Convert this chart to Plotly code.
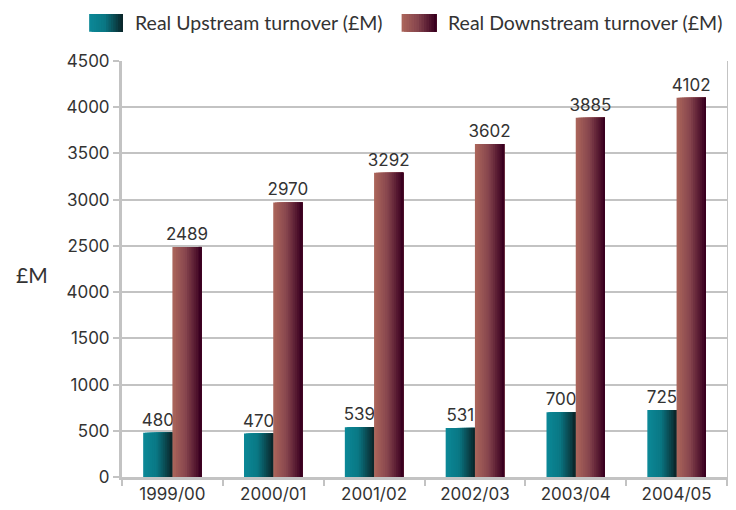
import plotly.graph_objects as go

years = ["1999/00", "2000/01", "2001/02", "2002/03", "2003/04", "2004/05"]
upstream = [480, 470, 539, 531, 700, 725]
downstream = [2489, 2970, 3292, 3602, 3885, 4102]
series_names = ["Real Upstream turnover (£M)", "Real Downstream turnover (£M)"]
tick_vals = [0, 500, 1000, 1500, 2000, 2500, 3000, 3500, 4000, 4500]
tick_text = ["0", "500", "1000", "1500", "4000", "2500", "3000", "3500", "4000", "4500"]

# page body has an 8px default margin; work in reference pixel coordinates
OFF = 8
W, H = 736 - OFF, 510 - OFF
PL, PR, PT, PB = 122, 730, 60.5, 481  # plot area in reference pixels
L, T = PL - OFF, PT - OFF
R, B = W - (PR - OFF), H - (PB - OFF)
FONT = "Lato"
NUMFONT = "Inter"
TXT = "#333333"
GRID = "#c3c3c3"

up_stops = [(0.0, (11, 135, 150)), (0.45, (10, 120, 133)), (1.0, (10, 40, 44))]
dn_stops = [(0.0, (170, 100, 90)), (0.45, (135, 70, 78)), (1.0, (58, 0, 32))]


def grad(stops, t):
    for (t0, c0), (t1, c1) in zip(stops[:-1], stops[1:]):
        if t0 <= t <= t1:
            f = (t - t0) / (t1 - t0) if t1 > t0 else 0
            c = [round(a + (b - a) * f) for a, b in zip(c0, c1)]
            return "rgb(%d,%d,%d)" % tuple(c)
    return "rgb(%d,%d,%d)" % stops[-1][1]


fig = go.Figure()
N = 16
bw = 0.29
for vals, stops, base in [(upstream, up_stops, -bw), (downstream, dn_stops, 0.0)]:
    sw = bw / N
    for k in range(N):
        t = k / (N - 1)
        fig.add_trace(go.Bar(
            x=years, y=vals, width=bw - k * sw, offset=base + k * sw,
            marker=dict(color=grad(stops, t), line=dict(width=0)),
            showlegend=False, hoverinfo="skip"))
    fig.add_trace(go.Bar(
        x=years, y=vals, width=bw, offset=base,
        marker=dict(color="rgba(0,0,0,0)", line=dict(width=0)),
        text=[str(v) for v in vals], textposition="outside", cliponaxis=False,
        constraintext="none",
        outsidetextfont=dict(family=NUMFONT, size=17, color=TXT),
        showlegend=False, hoverinfo="skip"))

pw, ph = PR - PL, PB - PT


def px_x(px):
    return (px - PL) / pw


def px_y(py):
    return (PB - py) / ph


shapes = []
for x0, x1, stops in [(89, 123, up_stops), (403, 438, dn_stops)]:
    n = 14
    for k in range(n):
        shapes.append(dict(
            type="rect", xref="paper", yref="paper",
            x0=px_x(x0 + (x1 - x0) * k / n), x1=px_x(x1),
            y0=px_y(31), y1=px_y(13),
            fillcolor=grad(stops, k / (n - 1)), line=dict(width=0), layer="above"))

annotations = [
    dict(text=series_names[0], xref="paper", yref="paper", x=px_x(133), y=px_y(22),
         xanchor="left", yanchor="middle", showarrow=False,
         font=dict(family=FONT, size=19.5, color=TXT)),
    dict(text=series_names[1], xref="paper", yref="paper", x=px_x(448), y=px_y(22),
         xanchor="left", yanchor="middle", showarrow=False,
         font=dict(family=FONT, size=19.5, color=TXT)),
    dict(text="£M", xref="paper", yref="paper", x=px_x(32), y=px_y(276),
         xanchor="center", yanchor="middle", showarrow=False,
         font=dict(family=FONT, size=21, color=TXT)),
]

fig.update_layout(
    width=W, height=H,
    margin=dict(l=L, r=R, t=T, b=B, pad=0),
    paper_bgcolor="white", plot_bgcolor="white",
    barmode="overlay",
    showlegend=False,
    shapes=shapes, annotations=annotations,
    font=dict(family=FONT, size=16, color=TXT),
)
fig.update_xaxes(
    type="category", tickson="boundaries", ticks="outside", ticklen=6,
    tickwidth=2, tickcolor=GRID, showline=True, linecolor=GRID, linewidth=3,
    showgrid=False, mirror=False,
    tickfont=dict(family=NUMFONT, size=17, color=TXT),
)
fig.update_yaxes(
    range=[0, 4500], tickvals=tick_vals, ticktext=tick_text,
    ticks="outside", ticklen=6, tickwidth=2, tickcolor=GRID,
    showline=True, linecolor=GRID, linewidth=3, mirror=True,
    showgrid=True, gridcolor=GRID, gridwidth=2, zeroline=False,
    tickfont=dict(family=NUMFONT, size=17, color=TXT),
)

fig.write_html("out.html")
